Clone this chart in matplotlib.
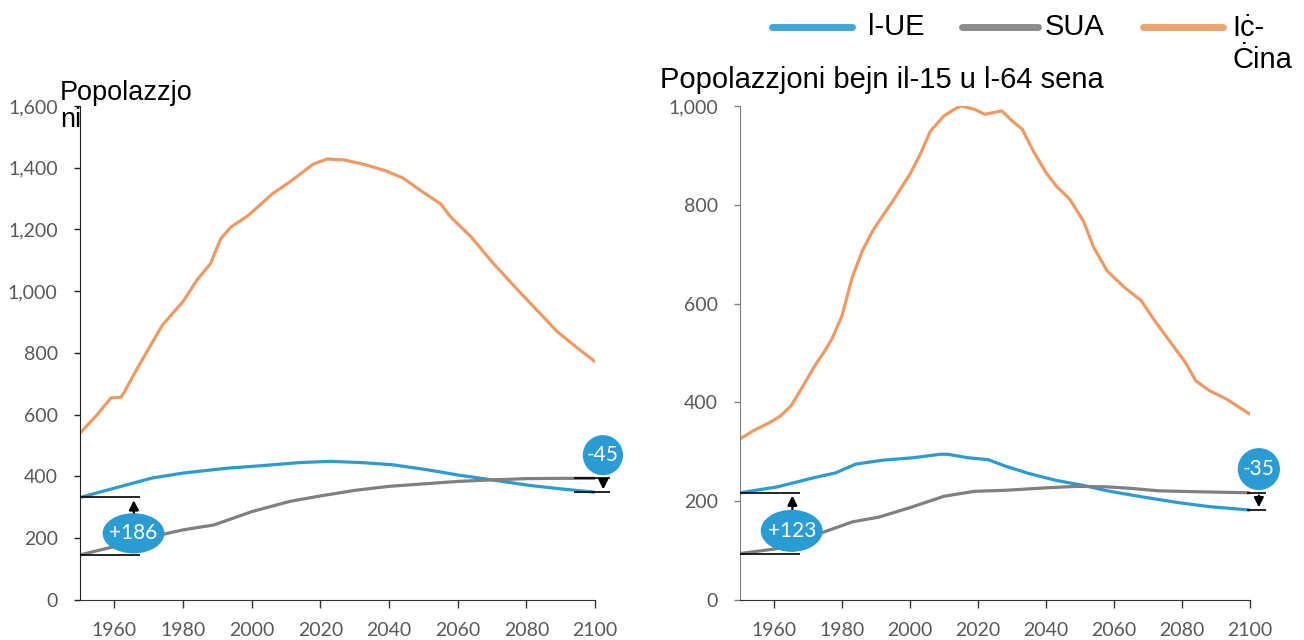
import matplotlib.pyplot as plt
from matplotlib.patches import Ellipse
from matplotlib.lines import Line2D
from matplotlib.ticker import FuncFormatter

# --- data (millions) ---
# left: total population
china_tot_years = [1950, 1955, 1959, 1962, 1963, 1967, 1974, 1980, 1984, 1988, 1991, 1994, 1999,
                   2006, 2011, 2018, 2022, 2027, 2033, 2039, 2044, 2050, 2055, 2058, 2064, 2070,
                   2078, 2084, 2089, 2095, 2100]
china_tot = [540, 600, 654, 657, 675, 756, 890, 966, 1035, 1089, 1170, 1208, 1245,
             1315, 1353, 1412, 1428, 1425, 1410, 1390, 1367, 1320, 1283, 1240, 1175, 1095,
             998, 928, 869, 815, 772]
eu_tot_years = [1950, 1960, 1971, 1980, 1993, 2003, 2014, 2023, 2032, 2041, 2051, 2060, 2070, 2081, 2090, 2100]
eu_tot = [332, 362, 395, 411, 427, 435, 445, 449, 445, 438, 422, 405, 389, 371, 360, 349]
us_tot_years = [1950, 1960, 1971, 1980, 1989, 2000, 2011, 2020, 2030, 2040, 2050, 2060, 2070, 2080, 2090, 2100]
us_tot = [146, 173, 205, 227, 243, 286, 319, 337, 355, 368, 376, 384, 389, 393, 394, 394]

# right: population aged 15-64
china_wa_years = [1950, 1954, 1959, 1962, 1965, 1968, 1972, 1975, 1977, 1980, 1983, 1986, 1989,
                  1992, 1995, 2000, 2003, 2006, 2010, 2013, 2015, 2019, 2022, 2027, 2030, 2033,
                  2036, 2040, 2043, 2047, 2051, 2054, 2058, 2063, 2068, 2072, 2077, 2081, 2084,
                  2088, 2093, 2100]
china_wa = [326, 343, 360, 373, 393, 427, 474, 505, 528, 575, 653, 707, 747,
            778, 808, 862, 902, 949, 980, 993, 1000, 993, 983, 990, 970, 953,
            912, 865, 838, 811, 767, 714, 666, 633, 606, 565, 518, 481, 444,
            424, 407, 376]
eu_wa_years = [1950, 1961, 1972, 1978, 1984, 1992, 2001, 2009, 2011, 2017, 2023, 2028, 2035,
               2043, 2051, 2058, 2068, 2079, 2088, 2100]
eu_wa = [217, 229, 248, 257, 275, 283, 288, 295, 295, 288, 284, 271, 256,
         242, 232, 221, 209, 197, 189, 182]
us_wa_years = [1950, 1961, 1972, 1983, 1991, 2000, 2010, 2019, 2028, 2040, 2049, 2058, 2065,
               2073, 2085, 2100]
us_wa = [94, 104, 131, 158, 168, 187, 210, 220, 222, 227, 230, 229, 226, 221, 219, 217]

legend_labels = ['l-UE', 'SUA', 'Iċ-\nĊina']
colors = ['#2b9bd3', '#808080', '#ef9a62']

plt.rcParams['font.family'] = ['Liberation Sans', 'DejaVu Sans']

fig = plt.figure(figsize=(13.04, 6.4), dpi=100)
ax1 = fig.add_axes([0.0613, 0.0625, 0.3950, 0.7720])
ax2 = fig.add_axes([0.5675, 0.0625, 0.3911, 0.7720])


def draw_panel(ax, series, ymax, spine_col):
    for (yrs, vals), c in zip(series, colors):
        ax.plot(yrs, vals, color=c, lw=2.3, solid_capstyle='round')
    ax.set_xlim(1950, 2100)
    ax.set_ylim(0, ymax)
    ax.set_xticks(range(1960, 2101, 20))
    ax.set_yticks(range(0, ymax + 1, 200))
    ax.yaxis.set_major_formatter(FuncFormatter(lambda v, p: f'{int(v):,}'))
    for s in ['top', 'right']:
        ax.spines[s].set_visible(False)
    ax.spines['left'].set_color(spine_col)
    ax.spines['bottom'].set_color('#333333')
    ax.tick_params(axis='x', length=6, width=1, color='#333333', pad=10,
                   labelsize=14, labelcolor='#595959', labelfontfamily='Lato')
    ax.tick_params(axis='y', length=4, width=1, color=spine_col, pad=12,
                   labelsize=14, labelcolor='#595959', labelfontfamily='Lato')


def gap_marker(ax, x0, x1, xa, v_from, v_to, txt, cx, cy, w, h):
    # reference lines, arrow and bubble
    ax.hlines([v_from, v_to], x0, x1, color='black', lw=1.2, clip_on=False, zorder=4)
    ax.annotate('', xy=(xa, v_to), xytext=(xa, v_from),
                arrowprops=dict(arrowstyle='-|>', color='black', lw=1.6, mutation_scale=14),
                annotation_clip=False, zorder=4)
    ax.add_patch(Ellipse((cx, cy), w, h, facecolor='#2b9bd3', edgecolor='none',
                         clip_on=False, zorder=5))
    ax.text(cx, cy, txt, color='white', ha='center', va='center', fontsize=15,
            family='Lato', zorder=6, clip_on=False)


draw_panel(ax1, [(eu_tot_years, eu_tot), (us_tot_years, us_tot), (china_tot_years, china_tot)],
           1600, '#222222')
draw_panel(ax2, [(eu_wa_years, eu_wa), (us_wa_years, us_wa), (china_wa_years, china_wa)],
           1000, '#808080')

d0 = eu_tot[0] - us_tot[0]
d1 = eu_tot[-1] - us_tot[-1]
gap_marker(ax1, 1950, 1967.5, 1965.7, us_tot[0], eu_tot[0], f'+{d0}', 1965.6, 216, 18, 130)
gap_marker(ax1, 2094, 2104.3, 2102.4, us_tot[-1], eu_tot[-1], f'{d1}', 2102.3, 469, 11.7, 130)

d2 = eu_wa[0] - us_wa[0]
d3 = eu_wa[-1] - us_wa[-1]
gap_marker(ax2, 1950, 1967.5, 1965.4, us_wa[0], eu_wa[0], f'+{d2}', 1965.2, 140, 18.2, 85)
gap_marker(ax2, 2099, 2104.6, 2102.6, us_wa[-1], eu_wa[-1], f'{d3}', 2102.6, 265, 12.4, 85)

# titles
fig.text(60 / 1304, 1 - 127 / 640, 'Popolazzjo\nni', fontsize=19.5, color='black',
         ha='left', va='baseline', linespacing=1.05)
fig.text(660 / 1304, 1 - 88 / 640, 'Popolazzjoni bejn il-15 u l-64 sena', fontsize=21,
         color='black', ha='left', va='baseline')

# legend drawn by hand so the handle sits on the first text line
leg_x = [(772, 852, 868), (962, 1038, 1045), (1143, 1223, 1232)]
for (xa, xb, xt), lab, c in zip(leg_x, legend_labels, colors):
    fig.add_artist(Line2D([xa / 1304, xb / 1304], [1 - 27 / 640] * 2, color=c, lw=5,
                          alpha=0.9, solid_capstyle='round'))
    if '\n' in lab:
        fig.text(xt / 1304, 1 - 14 / 640, lab, fontsize=21, ha='left', va='top',
                 linespacing=1.2)
    else:
        fig.text(xt / 1304, 1 - 27 / 640, lab, fontsize=21, ha='left', va='center')

fig.savefig('out.png', dpi=100)
